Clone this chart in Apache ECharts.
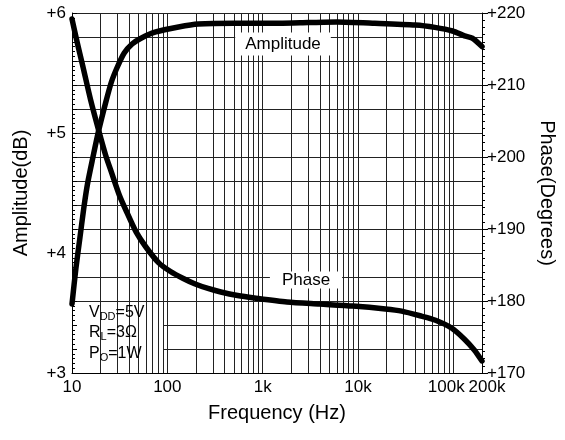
<!DOCTYPE html>
<html><head><meta charset="utf-8">
<script src="https://cdn.jsdelivr.net/npm/echarts@6/dist/echarts.min.js"></script>
<style>html,body{margin:0;padding:0;background:#fff}#c{width:565px;height:440px}</style>
</head><body><div id="c"></div>
<script>
// Amplitude (dB) vs frequency (Hz)
const ampFreq = [10, 11.0, 12.1, 13.3, 14.6, 16.5, 19.0, 22.5, 25.9, 29.9, 35.3, 42.7, 53.0, 75.7, 131, 211, 500, 1500, 3000, 6000, 15000, 40000, 64000, 98000, 131000, 158000, 200000];
const ampVal  = [3.575, 3.875, 4.125, 4.375, 4.583, 4.79, 5.017, 5.25, 5.425, 5.55, 5.667, 5.742, 5.79, 5.842, 5.883, 5.908, 5.915, 5.915, 5.92, 5.925, 5.915, 5.9, 5.88, 5.85, 5.81, 5.79, 5.72];
// Phase (degrees) vs frequency (Hz)
const phaseFreq = [10, 11.3, 13.0, 15.7, 19.0, 22.5, 25.9, 31.4, 37.1, 47.0, 59.6, 81.3, 108, 147, 196, 267, 364, 546, 819, 1800, 3940, 8860, 19400, 28700, 46400, 64000, 95800, 131000, 166000, 200000];
const phaseVal  = [219.17, 216.0, 212.6, 207.9, 203.75, 200.28, 197.9, 194.7, 192.5, 189.6, 187.5, 185.3, 184.1, 183.13, 182.36, 181.74, 181.25, 180.76, 180.42, 179.86, 179.58, 179.3, 178.9, 178.6, 177.9, 177.36, 176.25, 174.7, 173.2, 171.67];
// Axis ranges / ticks
const ampRange = [3, 6];
const phaseRange = [170, 220];
const gridDecades = [10, 100, 1000, 10000, 100000];
const gridMultipliers = [1, 2, 3, 4, 5, 6, 7, 8, 9];

const FONT = 'Liberation Sans, Arial, Helvetica, sans-serif';
const gridFreqs = [];
gridDecades.forEach(d => gridMultipliers.forEach(m => { const f = d * m; if (f > 10 && f < 200000) gridFreqs.push(f); }));

const chart = echarts.init(document.getElementById('c'), null, {renderer: 'canvas'});
const fmtX = v => { const r = Math.round(v); return r >= 1000 ? (r / 1000) + 'k' : String(r); };

chart.setOption({
  animation: false,
  backgroundColor: '#fff',
  textStyle: {fontFamily: FONT},
  grid: {left: 72, right: 77, top: 13, bottom: 67},
  xAxis: {
    type: 'log', logBase: 10, min: 10, max: 200000,
    name: 'Frequency (Hz)', nameLocation: 'middle', nameGap: 30,
    nameTextStyle: {fontSize: 20, color: '#000', fontFamily: FONT},
    axisLine: {lineStyle: {color: '#000', width: 1}},
    axisTick: {show: false},
    splitLine: {show: false},
    axisLabel: {
      interval: 0, showMaxLabel: true, showMinLabel: true,
      color: '#000', fontSize: 17, fontFamily: FONT, margin: 6,
      formatter: v => {
        const s = fmtX(v);
        if (s === '100k') return '{a|' + s + '}';
        if (s === '200k') return '{b|' + s + '}';
        return s;
      },
      rich: {
        a: {fontSize: 17, fontFamily: FONT, color: '#000', padding: [0, 14, 0, 0]},
        b: {fontSize: 17, fontFamily: FONT, color: '#000', padding: [0, 0, 0, 10]}
      }
    }
  },
  yAxis: [
    {
      type: 'value', min: ampRange[0], max: ampRange[1], interval: 0.2,
      name: 'Amplitude(dB)', nameLocation: 'middle', nameGap: 41, nameRotate: 90,
      nameTextStyle: {fontSize: 20, color: '#000', fontFamily: FONT},
      axisLine: {show: true, lineStyle: {color: '#000', width: 1}},
      axisTick: {show: true, inside: true, length: 5, lineStyle: {color: '#000'}},
      minorTick: {show: true, splitNumber: 5, length: 3, lineStyle: {color: '#000'}},
      splitLine: {show: true, lineStyle: {color: '#222', width: 1}},
      axisLabel: {
        color: '#000', fontSize: 17, fontFamily: FONT, margin: 6,
        formatter: v => Math.abs(v - Math.round(v)) < 1e-6 ? '+' + Math.round(v) : ''
      }
    },
    {
      type: 'value', min: phaseRange[0], max: phaseRange[1], interval: 10, position: 'right',
      name: 'Phase(Degrees)', nameLocation: 'middle', nameGap: 55, nameRotate: -90,
      nameTextStyle: {fontSize: 20, color: '#000', fontFamily: FONT},
      axisLine: {show: true, lineStyle: {color: '#000', width: 1}},
      axisTick: {show: true, inside: false, length: 6, lineStyle: {color: '#000'}},
      minorTick: {show: true, splitNumber: 10, length: 3, lineStyle: {color: '#000'}},
      splitLine: {show: false},
      axisLabel: {color: '#000', fontSize: 17, fontFamily: FONT, margin: 5, formatter: v => '+' + v}
    }
  ],
  series: [
    {
      type: 'line', data: [], z: 2, silent: true,
      markLine: {
        silent: true, symbol: ['none', 'none'], label: {show: false}, animation: false,
        lineStyle: {color: '#222', width: 1, type: 'solid'},
        data: gridFreqs.map(f => ({xAxis: f}))
      }
    },
    {
      type: 'line', name: 'Amplitude', yAxisIndex: 0, z: 5, smooth: 0.25, showSymbol: false,
      lineStyle: {color: '#000', width: 5.5, join: 'round', cap: 'round'}, itemStyle: {color: '#000'},
      data: ampFreq.map((f, i) => [f, ampVal[i]])
    },
    {
      type: 'line', name: 'Phase', yAxisIndex: 1, z: 5, smooth: 0.25, showSymbol: false,
      lineStyle: {color: '#000', width: 5.5, join: 'round', cap: 'round'}, itemStyle: {color: '#000'},
      data: phaseFreq.map((f, i) => [f, phaseVal[i]])
    }
  ],
  graphic: [
    {type: 'rect', z: 3, silent: true, shape: {x: 77, y: 302, width: 87, height: 70}, style: {fill: '#fff'}},
    {
      type: 'text', z: 6, x: 89, y: 302, silent: true,
      style: {
        text: '{n|V}{s|DD}{n|=5V}\n{n|R}{s|L}{n|=3Ω}\n{n|P}{s|O}{n|=1W}',
        rich: {
          n: {fontSize: 16, fontFamily: FONT, fill: '#000', lineHeight: 20.5},
          s: {fontSize: 11, fontFamily: FONT, fill: '#000', verticalAlign: 'top', padding: [9, 0, 0, 0]}
        }
      }
    },
    {
      type: 'text', z: 6, x: 283, y: 44, silent: true,
      style: {text: 'Amplitude', align: 'center', verticalAlign: 'middle', fontSize: 17, fontFamily: FONT, fill: '#000',
        backgroundColor: '#fff', padding: [3, 10]}
    },
    {
      type: 'text', z: 6, x: 306, y: 280, silent: true,
      style: {text: 'Phase', align: 'center', verticalAlign: 'middle', fontSize: 17, fontFamily: FONT, fill: '#000',
        backgroundColor: '#fff', padding: [0, 12]}
    }
  ]
});
</script></body></html>
